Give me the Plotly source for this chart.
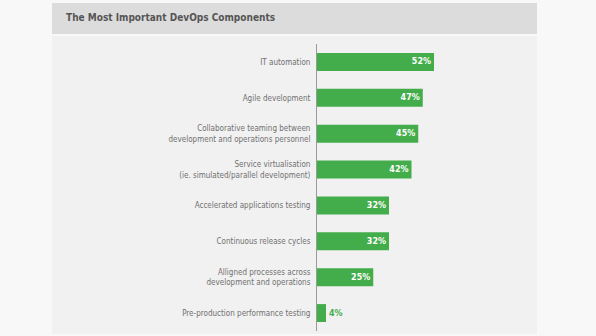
import plotly.graph_objects as go

categories = [
    "IT automation",
    "Agile development",
    "Collaborative teaming between<br>development and operations personnel",
    "Service virtualisation<br>(ie. simulated/parallel development)",
    "Accelerated applications testing",
    "Continuous release cycles",
    "Alligned processes across<br>development and operations",
    "Pre-production performance testing",
]
values = [52, 47, 45, 42, 32, 32, 25, 4]
labels = [f"<b>{v}%</b>" for v in values]
title_text = "The Most Important DevOps Components"

W, H = 596, 336
L, R, T, B = 317, 497, 44, 331  # plot area pixel bounds
XMAX = 80
GREEN = "#43ad4b"

def px(x):
    return (x - L) / (R - L)

def py(y):
    return (B - y) / (B - T)

# bars too short to hold their label get it just outside, in green
fits = [v >= 10 for v in values]
positions = ["inside" if f else "outside" for f in fits]
text_colors = ["white" if f else GREEN for f in fits]

fig = go.Figure(go.Bar(
    x=values, y=categories, orientation="h",
    marker=dict(color=GREEN, line=dict(width=0)),
    width=0.5,
    text=labels, textposition=positions, insidetextanchor="end",
    constraintext="none", textangle=0,
    textfont=dict(color=text_colors, size=8, family="DejaVu Sans"),
    cliponaxis=False,
))

shapes = [
    dict(type="rect", xref="paper", yref="paper", x0=px(52), x1=px(537), y0=py(3), y1=py(34),
         fillcolor="#dcdcdc", line=dict(width=0), layer="below"),
    dict(type="rect", xref="paper", yref="paper", x0=px(52), x1=px(537), y0=py(36), y1=py(334),
         fillcolor="#f1f1f1", line=dict(width=0), layer="below"),
]

fig.update_layout(
    width=W, height=H,
    margin=dict(l=L, r=W - R, t=T, b=H - B),
    paper_bgcolor="#f8f8f8", plot_bgcolor="rgba(0,0,0,0)",
    showlegend=False,
    shapes=shapes,
    annotations=[dict(text="<b>" + title_text + "</b>", xref="paper", yref="paper",
                      x=px(64), y=py(17.5), xanchor="left", yanchor="middle",
                      showarrow=False, font=dict(size=10, color="#555555", family="DejaVu Sans Condensed, DejaVu Sans"))],
    xaxis=dict(range=[0, XMAX], visible=False, fixedrange=True),
    yaxis=dict(autorange="reversed", showline=True, linecolor="#9a9a9a", linewidth=1,
               showgrid=False, zeroline=False, ticks="", ticklabelstandoff=4,
               tickfont=dict(size=8, color="#707070", family="DejaVu Sans Condensed, DejaVu Sans")),
    bargap=0.5,
)

fig.write_html("out.html")
